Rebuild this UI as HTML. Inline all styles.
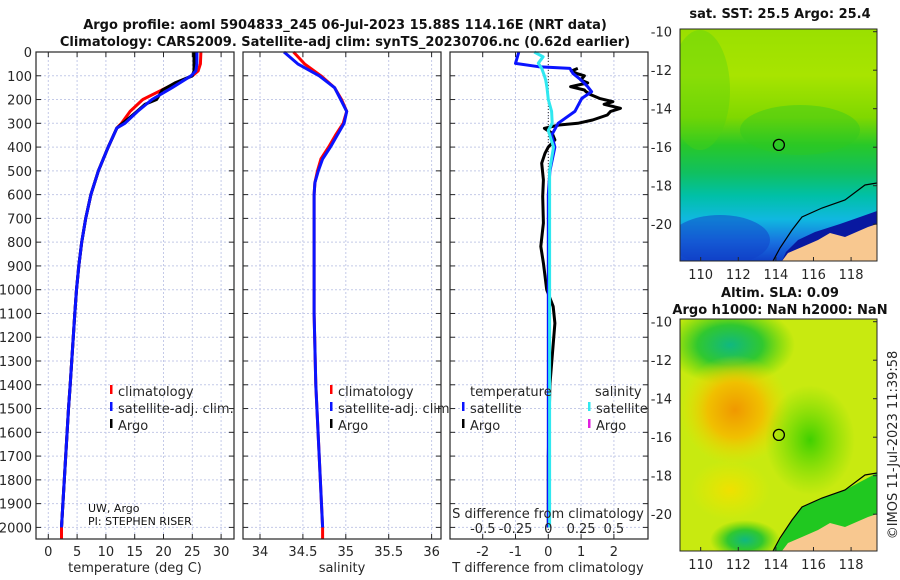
<!DOCTYPE html>
<html><head><meta charset="utf-8"><style>
body{margin:0;background:#fff}
svg{display:block;font-family:"DejaVu Sans","Liberation Sans",sans-serif}
</style></head><body>
<svg id="c" width="900" height="580" viewBox="0 0 900 580">
<defs>
 <linearGradient id="sstg" x1="0" y1="0" x2="0" y2="1">
  <stop offset="0" stop-color="#9ae000"/><stop offset="0.2" stop-color="#a8e400"/>
  <stop offset="0.38" stop-color="#80d800"/><stop offset="0.5" stop-color="#28c828"/>
  <stop offset="0.62" stop-color="#10c060"/><stop offset="0.72" stop-color="#00c0a8"/>
  <stop offset="0.82" stop-color="#10b8e0"/><stop offset="0.92" stop-color="#1870e0"/>
  <stop offset="1" stop-color="#1040c8"/></linearGradient>
 <radialGradient id="orb"><stop offset="0" stop-color="#f09800"/><stop offset="0.5" stop-color="#f0c000"/><stop offset="1" stop-color="#e8e000" stop-opacity="0"/></radialGradient>
 <radialGradient id="grb"><stop offset="0" stop-color="#10b880"/><stop offset="0.5" stop-color="#30c830"/><stop offset="1" stop-color="#50d000" stop-opacity="0"/></radialGradient>
 <radialGradient id="ylb"><stop offset="0" stop-color="#f0e000"/><stop offset="1" stop-color="#e8e800" stop-opacity="0"/></radialGradient>
 <radialGradient id="lgb"><stop offset="0" stop-color="#40d000"/><stop offset="1" stop-color="#60d800" stop-opacity="0"/></radialGradient>
 <clipPath id="m1"><rect x="680" y="29" width="197" height="232"/></clipPath>
 <clipPath id="m2"><rect x="680" y="319" width="197" height="232"/></clipPath>
</defs>
<g id="g"></g>
</svg>
<script>
// ---------- data ----------
const depthT = [0,50,80,100,150,200,250,300,320,400,500,600,700,800,900,1000,1100,1400,1500,2000,2048];
const tempClim = [26.5,26.4,26.0,25.0,20.5,16.4,14.2,12.7,11.9,10.4,8.7,7.4,6.5,5.8,5.3,4.9,4.6,3.8,3.5,2.3,2.3];
const tempSat  = [25.8,25.8,25.6,24.8,21.5,18.0,15.5,13.3,11.9,10.4,8.7,7.4,6.5,5.8,5.3,4.9,4.6,3.8,3.5,2.3];
const depthA = [0,50,80,100,130,160,180,200,220,250,280,300,320,400,500,600,700,800,900,1000,1100,1400,1500,2000];
const tempArgo = [25.3,25.3,25.3,25.0,22.0,19.8,19.3,18.8,16.8,15.4,13.9,12.9,11.9,10.4,8.7,7.4,6.5,5.8,5.3,4.9,4.6,3.8,3.5,2.3];
const depthS = [0,50,100,150,200,250,300,350,400,450,500,550,600,800,1100,1400,2000,2048];
const salClim = [34.39,34.52,34.71,34.87,34.95,35.01,34.97,34.88,34.80,34.71,34.67,34.64,34.63,34.63,34.63,34.65,34.73,34.73];
const salSat  = [34.28,34.44,34.69,34.87,34.94,35.01,34.98,34.90,34.82,34.73,34.68,34.64,34.63,34.63,34.63,34.65,34.73];
const depthD = [0,48,62,69,90,118,146,167,195,250,300,350,400,500,600,800,1000,1500,2000];
const tDiffSat = [-0.9,-1.0,-0.3,0.66,0.75,1.0,1.2,1.32,1.02,0.81,0.3,0.1,0.2,0.05,0.0,0.0,0.0,0.0,0.0];
const depthAD = [69,80,90,100,118,130,146,160,167,180,195,209,220,237,250,265,286,300,307,321,342,370,400,426,468,538,608,720,818,888,1000,1071,1141,1400,1700,2000];
const tDiffArgo = [0.9,0.7,0.86,1.1,0.99,1.2,0.68,1.1,1.15,1.3,1.56,1.97,1.7,2.2,1.9,1.8,1.35,0.9,0.33,-0.12,0.12,0.2,0.0,-0.1,-0.2,-0.15,-0.17,-0.15,-0.23,-0.15,-0.05,0.15,0.2,0.05,0.0,0.0];
const depthSD = [0,20,47,70,100,118,150,200,250,300,330,400,500,600,1000,1500,2000];
const sDiffSat = [-0.107,-0.04,-0.076,-0.05,-0.03,-0.02,-0.01,0.0,0.025,0.03,0.0,0.04,0.01,0.01,0.01,0.01,0.01];
const depthTicks = [0,100,200,300,400,500,600,700,800,900,1000,1100,1200,1300,1400,1500,1600,1700,1800,1900,2000];
const tTicks = [0,5,10,15,20,25,30];
const sTicks = [34,34.5,35,35.5,36];
const sTickLbl = ["34","34.5","35","35.5","36"];
const dTicks = [-2,-1,0,1,2];
const sdTicks = [-0.5,-0.25,0,0.25,0.5];
const sdTickLbl = ["-0.5","-0.25","0","0.25","0.5"];
const lonTicks = [110,112,114,116,118];
const latTicks = [-10,-12,-14,-16,-18,-20];
const floatLon = 114.16, floatLat = -15.88;

// ---------- helpers ----------
const NS="http://www.w3.org/2000/svg";
const G=document.getElementById('g');
function mk(tag,at,parent){const e=document.createElementNS(NS,tag);for(const k in at)e.setAttribute(k,at[k]);(parent||G).appendChild(e);return e;}
function txt(x,y,s,at){const e=mk('text',Object.assign({x:x,y:y,'font-size':13,fill:'#262626'},at||{}));e.textContent=s;return e;}
const Y=d=>52+d*0.2377;
const xT=v=>48.3+v*5.76;
const xS=v=>260+(v-34)*85.8;
const xD=v=>548.3+v*32.8;
const xSD=v=>548.3+v*131;
const PB=539;
function panel(x0,name){
  const r=mk('rect',{x:x0,y:52,width:198,height:PB-52,fill:'#fff',stroke:'none'});
  
  
}
function frame(x0){mk('rect',{x:x0,y:52,width:198,height:PB-52,fill:'none',stroke:'#262626','stroke-width':1.2});}
function hgrid(x0){depthTicks.forEach(d=>{mk('line',{x1:x0,x2:x0+198,y1:Y(d),y2:Y(d),stroke:'#c4cae8','stroke-width':1,'stroke-dasharray':'2,2'});
  mk('line',{x1:x0,x2:x0+5,y1:Y(d),y2:Y(d),stroke:'#262626'});mk('line',{x1:x0+198,x2:x0+193,y1:Y(d),y2:Y(d),stroke:'#262626'});});}
function vgrid(xs,f){xs.forEach(v=>{const x=f(v);mk('line',{x1:x,x2:x,y1:52,y2:PB,stroke:'#c4cae8','stroke-width':1,'stroke-dasharray':'2,2'});
  mk('line',{x1:x,x2:x,y1:52,y2:57,stroke:'#262626'});mk('line',{x1:x,x2:x,y1:PB,y2:PB-5,stroke:'#262626'});});}
function line(ds,vs,f,col,name,w){
  const p=vs.map((v,i)=>f(v).toFixed(1)+','+Y(ds[i]).toFixed(1)).join(' ');
  const e=mk('polyline',{points:p,fill:'none',stroke:col,'stroke-width':w||3,'stroke-linejoin':'round'});
  
  
}

// ---------- titles ----------
let t=txt(345,29,'Argo profile: aoml 5904833_245 06-Jul-2023 15.88S 114.16E (NRT data)',{'font-weight':'bold','text-anchor':'middle',fill:'#111'});

t=txt(345,46,'Climatology: CARS2009. Satellite-adj clim: synTS_20230706.nc (0.62d earlier)',{'font-weight':'bold','text-anchor':'middle',fill:'#111'});


// ---------- panel 1 temperature ----------
panel(36,'temperature-panel');
vgrid(tTicks,xT);hgrid(36);
depthTicks.forEach(d=>{const e=txt(32,Y(d)+5,String(d),{'text-anchor':'end'});
 });
tTicks.forEach(v=>{const e=txt(xT(v),556,String(v),{'text-anchor':'middle'});
 });
line(depthT,tempClim,xT,'#ff0000','temp-climatology-line');
line(depthA,tempArgo,xT,'#000000','temp-argo-line');
line(depthT.slice(0,20),tempSat,xT,'#0a14ff','temp-satellite-line');
frame(36);
t=txt(135,572,'temperature (deg C)',{'text-anchor':'middle'});
t=txt(88,512,'UW, Argo',{'font-size':11,fill:'#111'});
t=txt(88,525,'PI: STEPHEN RISER',{'font-size':11,fill:'#111'});
function legend(x,y,items,name){const g=mk('g',{});
 items.forEach((it,i)=>{mk('rect',{x:x,y:y+i*17-11,width:2.5,height:9,fill:it[1]},g);const e=txt(x+8,y+i*17,it[0],{},g);g.appendChild(e);});}
legend(110,396,[['climatology','#ff0000'],['satellite-adj. clim.','#0a14ff'],['Argo','#000']],'temperature-legend');

// ---------- panel 2 salinity ----------
panel(243,'salinity-panel');
vgrid(sTicks,xS);hgrid(243);
sTicks.forEach((v,i)=>{const e=txt(xS(v),556,sTickLbl[i],{'text-anchor':'middle'});
 });
line(depthS,salClim,xS,'#ff0000','sal-climatology-line');
line(depthS.slice(0,17),salSat,xS,'#0a14ff','sal-satellite-line');
frame(243);
t=txt(342,572,'salinity',{'text-anchor':'middle'});
legend(330,396,[['climatology','#ff0000'],['satellite-adj. clim.','#0a14ff'],['Argo','#000']],'salinity-legend');

// ---------- panel 3 differences ----------
panel(450,'difference-panel');
vgrid(dTicks,xD);hgrid(450);
mk('line',{x1:xD(0),x2:xD(0),y1:52,y2:PB,stroke:'#333','stroke-width':1,'stroke-dasharray':'1,2'});
line(depthAD,tDiffArgo,xD,'#000000','t-diff-argo-line');
line(depthD,tDiffSat,xD,'#0a14ff','t-diff-satellite-line');
line(depthSD,sDiffSat,xSD,'#30e8f0','s-diff-satellite-line');
frame(450);
dTicks.forEach(v=>{const e=txt(xD(v),556,String(v),{'text-anchor':'middle'});
 });
sdTicks.forEach((v,i)=>{const e=txt(xSD(v),533,sdTickLbl[i],{'text-anchor':'middle'});
 });
t=txt(548,518,'S difference from climatology',{'text-anchor':'middle'});
t=txt(548,572,'T difference from climatology',{'text-anchor':'middle'});
t=txt(470,396,'temperature',{});
t=txt(595,396,'salinity',{});
legend(462,413,[['satellite','#0a14ff'],['Argo','#000']],'t-diff-legend');
legend(588,413,[['satellite','#30e8f0'],['Argo','#e020e0']],'s-diff-legend');

// ---------- maps ----------
const mLon=v=>680+(v-108.9)*18.8;
const mLat=(v,top)=>top+2.7+(-10-v)*19.25;
function coast(top,g){
  const o=top-29;
  const land=[[877,224],[868,227],[845,237],[830,233],[818,240],[802,247],[788,253],[782,261],[877,261]].map(p=>p[0]+','+(p[1]+o)).join(' ');
  mk('polygon',{points:land,fill:'#f8c890'},g);
  const cont=[[773,261],[780,248],[792,230],[802,217],[822,208],[845,200],[865,185],[877,183]].map(p=>p[0]+','+(p[1]+o)).join(' ');
  mk('polyline',{points:cont,fill:'none',stroke:'#000','stroke-width':1.2},g);
}
function mapAxes(top,name){
  mk('rect',{x:680,y:top,width:197,height:232,fill:'none',stroke:'#262626'});
  lonTicks.forEach(v=>{const e=txt(mLon(v),top+250,String(v),{'text-anchor':'middle'});
   
   mk('line',{x1:mLon(v),x2:mLon(v),y1:top+232,y2:top+228,stroke:'#262626'});});
  latTicks.forEach(v=>{const e=txt(672,mLat(v,top)+5,String(v),{'text-anchor':'end'});
   
   mk('line',{x1:877,x2:873,y1:mLat(v,top),y2:mLat(v,top),stroke:'#262626'});});
  const c=mk('circle',{cx:mLon(floatLon),cy:mLat(floatLat,top),r:5.5,fill:'none',stroke:'#000','stroke-width':1.3});
  
}
// SST map
let m1=mk('g',{'clip-path':'url(#m1)'});
mk('rect',{x:680,y:29,width:197,height:232,fill:'url(#sstg)'},m1);
mk('ellipse',{cx:700,cy:90,rx:30,ry:60,fill:'#50d010',opacity:0.35},m1);
mk('ellipse',{cx:800,cy:130,rx:60,ry:25,fill:'#30c820',opacity:0.4},m1);
mk('ellipse',{cx:720,cy:240,rx:50,ry:25,fill:'#1040c8',opacity:0.5},m1);
mk('polygon',{points:'877,211 860,217 840,224 815,232 798,240 786,252 782,261 877,261',fill:'#0818a0'},m1);
coast(29,m1);
mapAxes(29,'sst-map');
t=txt(780,18,'sat. SST: 25.5 Argo: 25.4',{'font-weight':'bold','text-anchor':'middle',fill:'#111'});
// SLA map
let m2=mk('g',{'clip-path':'url(#m2)'});
mk('rect',{x:680,y:319,width:197,height:232,fill:'#c8ea10'},m2);
mk('ellipse',{cx:730,cy:345,rx:65,ry:40,fill:'url(#grb)'},m2);
mk('ellipse',{cx:735,cy:410,rx:55,ry:55,fill:'url(#orb)'},m2);
mk('ellipse',{cx:730,cy:490,rx:40,ry:30,fill:'url(#ylb)'},m2);
mk('ellipse',{cx:745,cy:540,rx:35,ry:20,fill:'url(#grb)'},m2);
mk('ellipse',{cx:810,cy:440,rx:45,ry:55,fill:'url(#lgb)'},m2);
mk('polygon',{points:'877,473 845,490 822,498 802,507 792,520 773,551 877,551',fill:'#20c820'},m2);
coast(319,m2);
mapAxes(319,'sla-map');
t=txt(780,297,'Altim. SLA: 0.09',{'font-weight':'bold','text-anchor':'middle',fill:'#111'});
t=txt(780,314,'Argo h1000: NaN h2000: NaN',{'font-weight':'bold','text-anchor':'middle',fill:'#111'});
t=txt(0,0,'©IMOS 11-Jul-2023 11:39:58',{'text-anchor':'middle',transform:'translate(897,445) rotate(-90)'});
</script>
</body></html>
